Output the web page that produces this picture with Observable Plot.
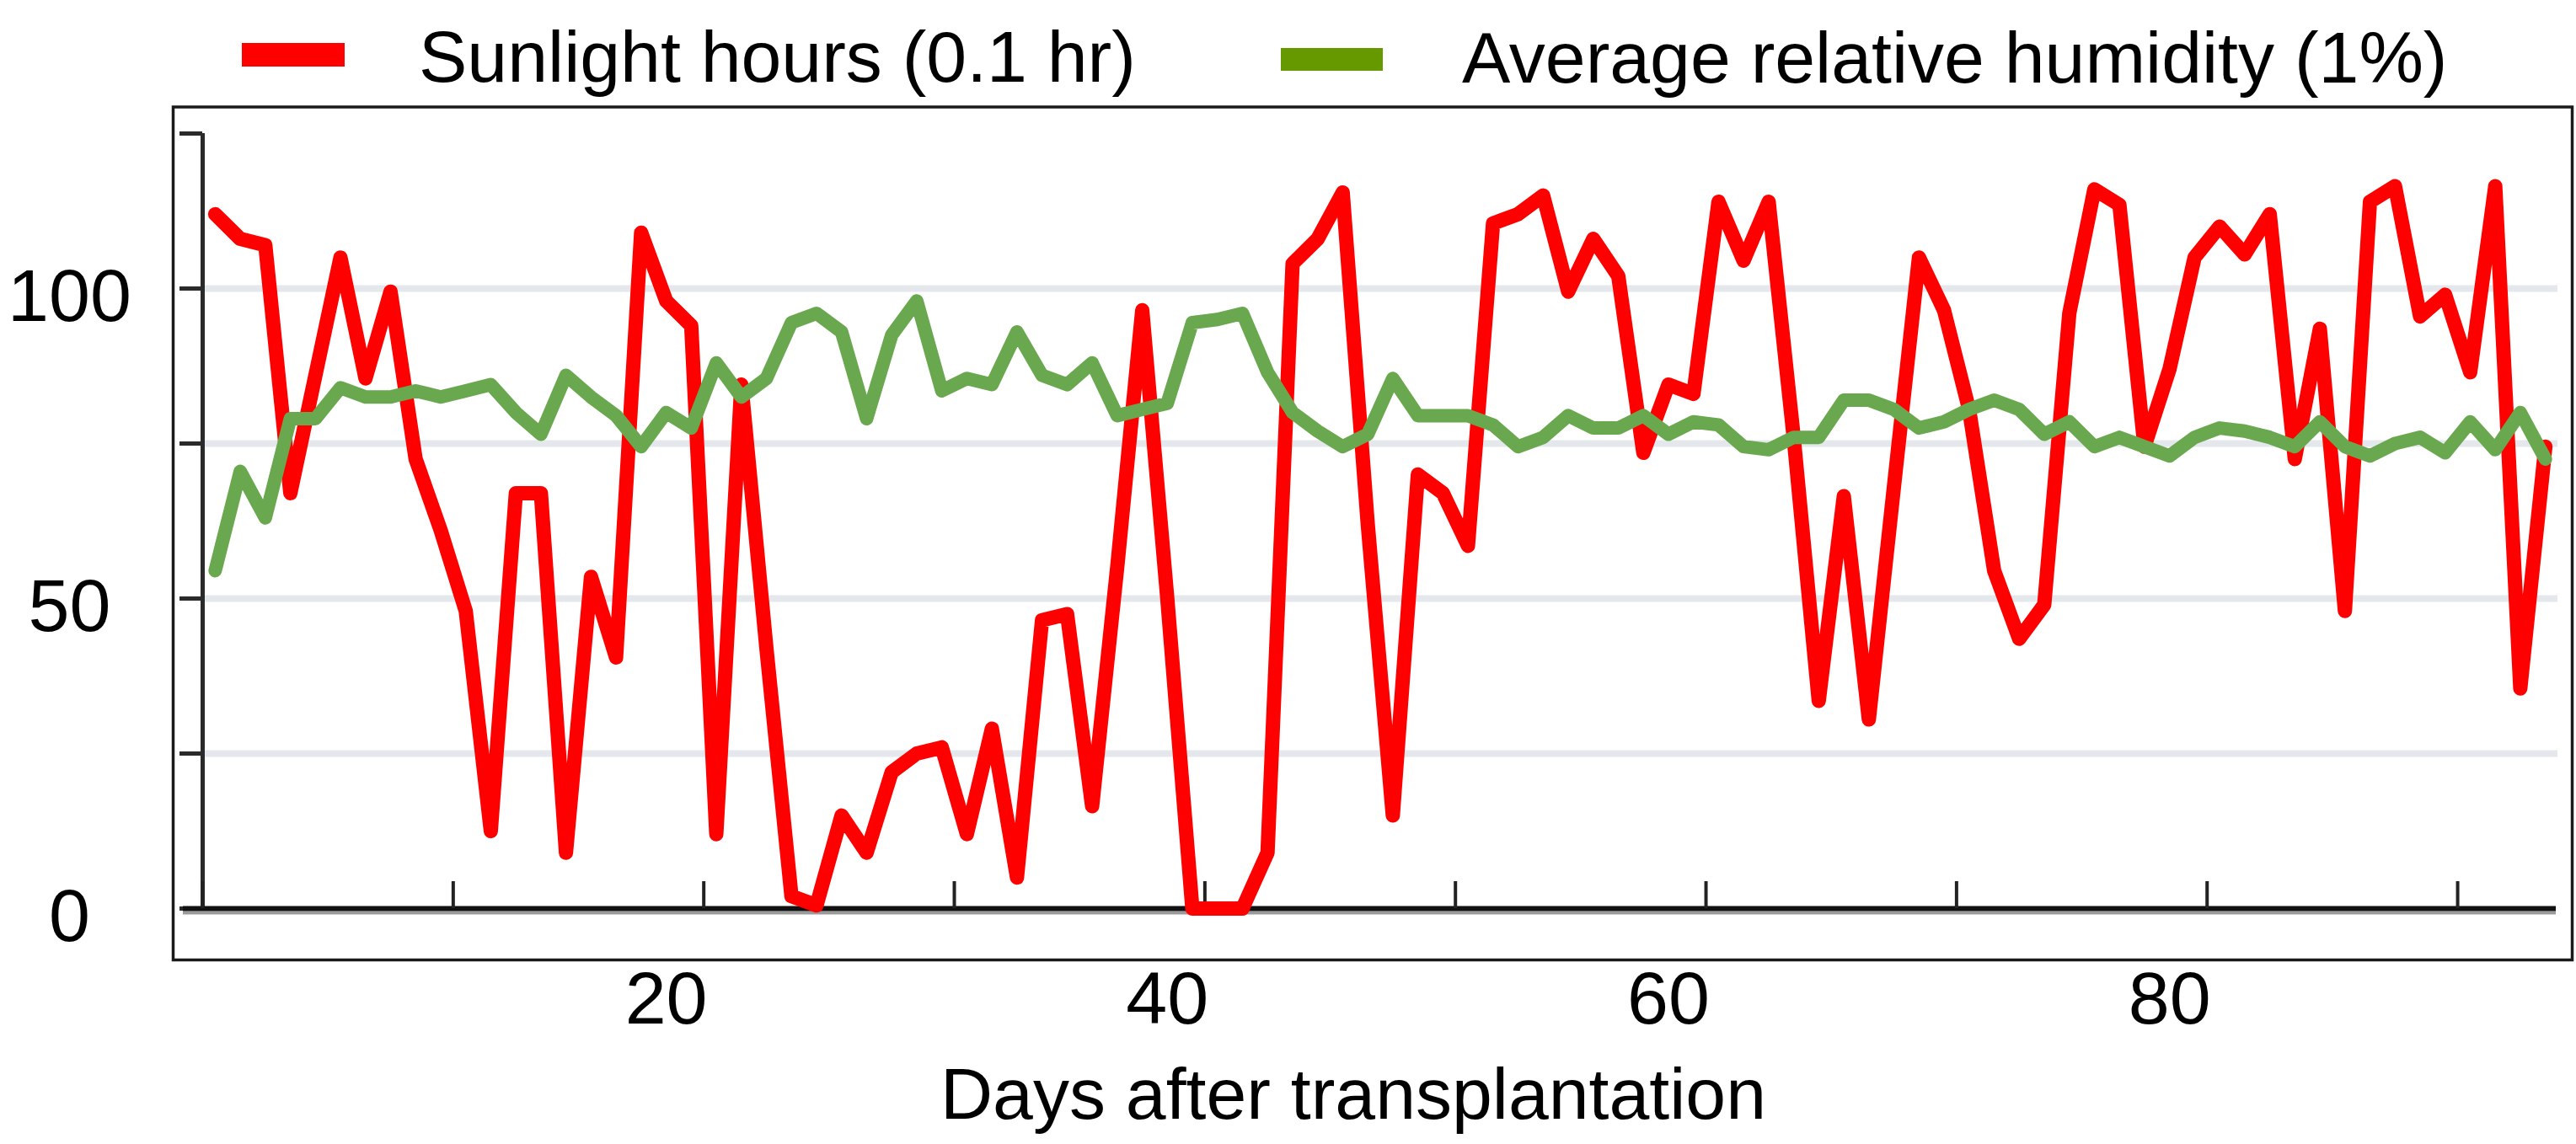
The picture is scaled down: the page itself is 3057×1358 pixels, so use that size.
<!DOCTYPE html>
<html>
<head>
<meta charset="utf-8">
<script src="https://cdn.jsdelivr.net/npm/d3@7"></script>
<script src="https://cdn.jsdelivr.net/npm/@observablehq/plot@0.6"></script>
<style>
  html, body { margin: 0; padding: 0; background: #fff; }
  #page { position: relative; width: 3057px; height: 1358px; background: #fff; font-family: "Liberation Sans", Arial, sans-serif; }
  #legend { position: relative; width: 3057px; height: 118px; }
  .sw { position: absolute; }
  .lt { position: absolute; font-size: 86px; line-height: 86px; color: #000; white-space: nowrap; }
  #chart svg { display: block; }
</style>
</head>
<body>
<div id="page">
  <div id="legend">
    <div class="sw" style="left:287px;top:51px;width:122px;height:28px;background:#ff0000"></div>
    <div class="lt" style="left:497px;top:24px">Sunlight hours (0.1 hr)</div>
    <div class="sw" style="left:1520px;top:57px;width:121px;height:27px;background:#669900"></div>
    <div class="lt" style="left:1735px;top:25px">Average relative humidity (1%)</div>
  </div>
  <div id="chart"></div>
</div>
<script>
// Days after transplantation (one value per day)
const days = [2,3,4,5,6,7,8,9,10,11,12,13,14,15,16,17,18,19,20,21,22,23,24,25,26,27,28,29,30,31,
  32,33,34,35,36,37,38,39,40,41,42,43,44,45,46,47,48,49,50,51,52,53,54,55,56,57,58,59,60,61,
  62,63,64,65,66,67,68,69,70,71,72,73,74,75,76,77,78,79,80,81,82,83,84,85,86,87,88,89,90,91,
  92,93,94,95];

// Sunlight hours (0.1 hr)
const sunlight = [112,108,107,67,86,105,85.5,99.5,72.5,61,48,12.5,67,67,9,53.5,40.5,109,98,94,
  12,84.5,42,2,0.5,15,9,22,25,26,12,29,5,46.5,47.5,16.5,55,96.5,50,0,
  0,0,9,104,108,115.5,62,15,70,67,58.5,110.5,112,115,99.5,108,102,73.5,84.5,83,
  114,104.5,114,76,33.5,66.5,30.5,68,105,96.5,80.5,54.5,43.5,49,96,116,113.5,74.5,87,105,
  110,105.5,112,72.5,93.5,48,114,116.5,95.5,99,86.5,116.5,35.5,74.5];

// Average relative humidity (1%)
const humidity = [54.5,70.5,63,79,79,84,82.5,82.5,83.5,82.5,83.5,84.5,80,76.5,86,82.5,79.5,74.5,80,77.5,
  88,82.5,85.5,94.5,96,93,79,92.5,98,83.5,85.5,84.5,93,86,84.5,88,79.5,80.5,81.5,94.5,
  95,96,86.5,80,77,74.5,76.5,85.5,79.5,79.5,79.5,78,74.5,76,79.5,77.5,77.5,79.5,76.5,78.5,
  78,74.5,74,76,76,82,82,80.5,77.5,78.5,80.5,82,80.5,76.5,78.5,74.5,76,74.5,73,76,
  77.5,77,76,74.5,78.5,74.5,73,75,76,73.5,78.5,74,80,72.5];

// Axis ticks and labels
const yTickValues = [0,25,50,75,100,125];
const yLabelValues = [0,50,100];
const gridValues = [25,50,75,100];
const xLabelValues = [20,40,60,80];
const xBoundaryTicks = [1.5,11.5,21.5,31.5,41.5,51.5,61.5,71.5,81.5,91.5];
const xTitle = "Days after transplantation";

const rows = days.map((d, i) => ({day: d, sunlight: sunlight[i], humidity: humidity[i]}));
const xDomain = [days[0] - 0.5, days[days.length - 1] + 0.5];

const chart = Plot.plot({
  width: 3057,
  height: 1240,
  marginLeft: 240,
  marginRight: 22,
  marginTop: 40,
  marginBottom: 280,
  x: {domain: xDomain, axis: null},
  y: {domain: [0, 125], axis: null},
  style: {fontFamily: "'Liberation Sans', Arial, sans-serif", fontSize: "86px", color: "#000", background: "#fff", overflow: "visible"},
  marks: [
    Plot.frame({stroke: "#1a1a1a", strokeWidth: 3.5, insetLeft: -35, insetRight: -17, insetTop: -31.5, insetBottom: -61}),
    Plot.ruleY(gridValues, {stroke: "#e4e7eb", strokeWidth: 8}),
    // y axis
    Plot.ruleX([xDomain[0]], {y1: 0, y2: 125, stroke: "#2a2a2a", strokeWidth: 5}),
    Plot.axisY({ticks: yTickValues, tickSize: 27, tickFormat: () => "", stroke: "#2a2a2a", strokeWidth: 5, label: null}),
    Plot.text(yLabelValues, {y: d => d, text: d => String(d), frameAnchor: "left", dx: -158, dy: 10, textAnchor: "middle", fontSize: 88, fill: "#000"}),
    // x axis
    Plot.ruleY([0], {stroke: "#9a9a9a", strokeWidth: 4, dy: 5, insetLeft: -23, insetRight: 2}),
    Plot.ruleY([0], {stroke: "#111", strokeWidth: 6, insetLeft: -23, insetRight: 2}),
    Plot.axisX({ticks: xBoundaryTicks, tickSize: -32, tickFormat: () => "", stroke: "#222", strokeWidth: 4, label: null}),
    Plot.axisX({ticks: xLabelValues, tickSize: 0, tickPadding: 74, fontSize: 88, label: null, fill: "#000"}),
    Plot.text([xTitle], {text: d => d, frameAnchor: "bottom", dy: 222, dx: -32, lineAnchor: "middle", fontSize: 86, fill: "#000"}),
    // data
    Plot.line(rows, {x: "day", y: "sunlight", stroke: "#ff0000", strokeWidth: 17, strokeLinejoin: "round", strokeLinecap: "round"}),
    Plot.line(rows, {x: "day", y: "humidity", stroke: "#6aa84f", strokeWidth: 16, strokeLinejoin: "round", strokeLinecap: "round"})
  ]
});
document.getElementById("chart").appendChild(chart);
</script>
</body>
</html>
